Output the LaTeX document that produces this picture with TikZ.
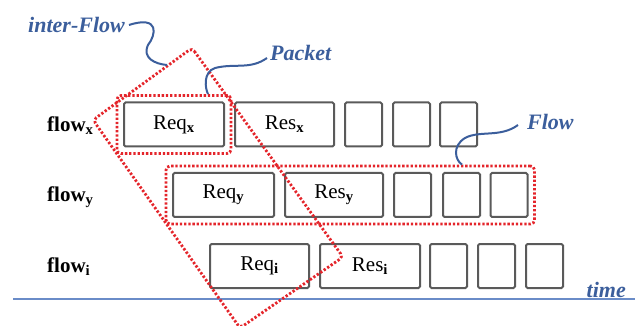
\documentclass[tikz,border=0pt]{standalone}
\usepackage{fontspec}
\setmainfont{Liberation Serif}
\usetikzlibrary{fit}
\definecolor{lineblue}{HTML}{3B5E9C}
\definecolor{axisblue}{HTML}{6A8CC8}
\definecolor{dotred}{HTML}{E4252B}
\definecolor{boxgray}{HTML}{5A5A5A}
\tikzset{
  pkt/.style={draw=boxgray, line width=2pt, rounded corners=1.5pt, minimum height=44pt, inner sep=0pt, font=\fontsize{21}{21}\selectfont},
  slot/.style={pkt, minimum width=37pt},
  reddot/.style={draw=dotred, line width=2.8pt, dash pattern=on 2.3pt off 1.9pt, rounded corners=4pt},
  callout/.style={draw=lineblue, line width=2pt},
  tag/.style={text=lineblue, font=\fontsize{22}{22}\selectfont\itshape\bfseries, inner sep=0pt},
  rowlabel/.style={font=\fontsize{21}{21}\selectfont\bfseries, inner sep=0pt, anchor=west}
}
\newcommand{\idx}[1]{\textsubscript{\bfseries #1}}
\begin{document}
\begin{tikzpicture}[x=1pt,y=-1pt]
\useasboundingbox (0,0) rectangle (635,326);

% row labels
\node[rowlabel] (lx) at (47,126) {flow\idx{x}};
\node[rowlabel] (ly) at (47,197) {flow\idx{y}};
\node[rowlabel] (li) at (47,267) {flow\idx{i}};

% flow x
\node[pkt, minimum width=100pt] (reqx) at (174,124.5) {Req\idx{x}};
\node[pkt, minimum width=99pt]  (resx) at (284.5,124.5) {Res\idx{x}};
\node[slot] (x1) at (363.5,124.5) {};
\node[slot] (x2) at (411.5,124.5) {};
\node[slot] (x3) at (458.5,124.5) {};

% flow y
\node[pkt, minimum width=101pt] (reqy) at (223.5,195) {Req\idx{y}};
\node[pkt, minimum width=98pt]  (resy) at (334,195) {Res\idx{y}};
\node[slot] (y1) at (412.5,195) {};
\node[slot] (y2) at (461.5,195) {};
\node[slot] (y3) at (509,195) {};

% flow i
\node[pkt, minimum width=99pt]  (reqi) at (259.5,266) {Req\idx{i}};
\node[pkt, minimum width=100pt] (resi) at (370,266) {Res\idx{i}};
\node[slot] (i1) at (448.5,266) {};
\node[slot] (i2) at (496.5,266) {};
\node[slot] (i3) at (544.5,266) {};

% time axis
\draw[axisblue, line width=1.5pt] (13,299) coordinate (t0) -- (635,299) coordinate (t1);
\node[tag, anchor=east] (time) at (626,290) {time};

% dotted groupings
\node[reddot, fit=(reqx), inner sep=6pt] (packet) {};
\node[reddot, fit=(reqy)(y3), inner sep=6pt] (flow) {};
\draw[reddot] (192,48) coordinate (ifT) -- (343,257) coordinate (ifR)
  -- (240,328) coordinate (ifB) -- (93,120) coordinate (ifL) -- cycle;

% callout labels
\node[tag, anchor=east] (tinter) at (125,25) {inter-Flow};
\node[tag, anchor=west] (tpacket) at (270,53) {Packet};
\node[tag, anchor=west] (tflow) at (527,122) {Flow};

\coordinate (ifhit) at (167,65);
\draw[callout] ([xshift=4pt]tinter.east) .. controls (160,15) and (156,35) .. (148,45)
  .. controls (142,58) and (155,64) .. (ifhit);
\draw[callout] ([xshift=-3pt,yshift=-5pt]tpacket.west) .. controls (250,70) and (235,63) .. (215,68)
  .. controls (203,72) and (205,88) .. (packet.north -| 208,0);
\draw[callout] ([xshift=-9pt,yshift=-3pt]tflow.west) .. controls (500,138) and (480,130) .. (465,138)
  .. controls (452,146) and (455,160) .. (flow.north -| 462,0);
\end{tikzpicture}
\end{document}
